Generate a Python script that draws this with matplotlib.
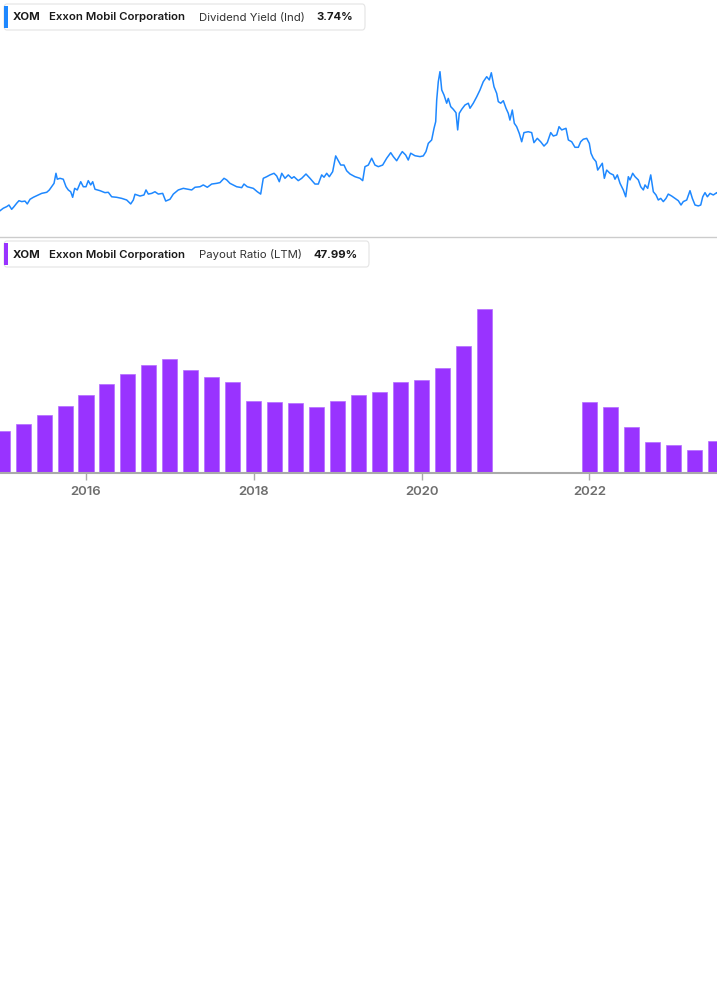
import matplotlib
matplotlib.use("Agg")
import matplotlib.pyplot as plt
from matplotlib.patches import FancyBboxPatch, Rectangle

plt.rcParams['font.family'] = ['Inter', 'DejaVu Sans']

# dividend yield (%)
yield_dates = [2014.975, 2015.014, 2015.055, 2015.082, 2015.114, 2015.142, 2015.174, 2015.201, 2015.234, 2015.273,
               2015.300, 2015.333, 2015.372, 2015.431, 2015.472, 2015.532, 2015.563, 2015.591, 2015.619, 2015.642,
               2015.658, 2015.690, 2015.729, 2015.762, 2015.789, 2015.818, 2015.841, 2015.865, 2015.896, 2015.937,
               2015.968, 2016.000, 2016.027, 2016.056, 2016.080, 2016.107, 2016.167, 2016.226, 2016.266, 2016.306,
               2016.366, 2016.426, 2016.485, 2016.533, 2016.564, 2016.584, 2016.644, 2016.691, 2016.715, 2016.743,
               2016.783, 2016.822, 2016.862, 2016.914, 2016.950, 2017.001, 2017.041, 2017.100, 2017.160, 2017.219,
               2017.260, 2017.299, 2017.359, 2017.398, 2017.446, 2017.498, 2017.558, 2017.597, 2017.645, 2017.677,
               2017.716, 2017.796, 2017.856, 2017.883, 2017.922, 2017.994, 2018.042, 2018.082, 2018.113, 2018.154,
               2018.193, 2018.241, 2018.273, 2018.304, 2018.333, 2018.372, 2018.411, 2018.452, 2018.479, 2018.530,
               2018.571, 2018.622, 2018.670, 2018.729, 2018.769, 2018.809, 2018.837, 2018.869, 2018.900, 2018.940,
               2018.976, 2019.007, 2019.036, 2019.075, 2019.107, 2019.147, 2019.206, 2019.266, 2019.298, 2019.325,
               2019.365, 2019.405, 2019.444, 2019.484, 2019.536, 2019.584, 2019.632, 2019.663, 2019.703, 2019.743,
               2019.770, 2019.810, 2019.841, 2019.870, 2019.921, 2019.981, 2020.020, 2020.052, 2020.080, 2020.120,
               2020.148, 2020.168, 2020.180, 2020.199, 2020.219, 2020.240, 2020.267, 2020.299, 2020.318, 2020.347,
               2020.378, 2020.410, 2020.430, 2020.449, 2020.478, 2020.517, 2020.557, 2020.577, 2020.616, 2020.657,
               2020.696, 2020.735, 2020.776, 2020.807, 2020.831, 2020.863, 2020.895, 2020.914, 2020.943, 2020.974,
               2021.006, 2021.033, 2021.053, 2021.081, 2021.105, 2021.133, 2021.164, 2021.193, 2021.220, 2021.271,
               2021.312, 2021.339, 2021.379, 2021.419, 2021.459, 2021.498, 2021.539, 2021.570, 2021.610, 2021.638,
               2021.670, 2021.721, 2021.749, 2021.789, 2021.828, 2021.868, 2021.896, 2021.927, 2021.968, 2021.999,
               2022.019, 2022.046, 2022.079, 2022.099, 2022.126, 2022.154, 2022.178, 2022.206, 2022.245, 2022.285,
               2022.305, 2022.333, 2022.365, 2022.404, 2022.433, 2022.464, 2022.484, 2022.516, 2022.544, 2022.583,
               2022.612, 2022.643, 2022.663, 2022.695, 2022.731, 2022.762, 2022.794, 2022.821, 2022.850, 2022.881,
               2022.913, 2022.940, 2022.981, 2023.020, 2023.060, 2023.092, 2023.119, 2023.160, 2023.199, 2023.227,
               2023.259, 2023.298, 2023.327, 2023.351, 2023.378, 2023.406, 2023.438, 2023.477, 2023.518, 2023.530]
yield_values = [2.80, 2.94, 3.03, 3.12, 2.88, 3.03, 3.22, 3.36, 3.31, 3.34,
                3.18, 3.44, 3.55, 3.68, 3.77, 3.83, 3.96, 4.14, 4.33, 4.89,
                4.56, 4.61, 4.56, 4.14, 3.96, 3.86, 3.55, 4.05, 3.96, 4.42,
                4.14, 4.14, 4.48, 4.24, 4.42, 4.00, 3.92, 3.81, 3.83, 3.58,
                3.55, 3.49, 3.40, 3.18, 3.40, 3.72, 3.62, 3.68, 3.96, 3.73,
                3.77, 3.86, 3.73, 3.77, 3.34, 3.44, 3.73, 3.96, 4.05, 4.00,
                3.96, 4.11, 4.14, 4.24, 4.11, 4.29, 4.33, 4.37, 4.61, 4.52,
                4.33, 4.14, 4.09, 4.29, 4.14, 4.05, 3.86, 3.73, 4.61, 4.70,
                4.80, 4.89, 4.74, 4.42, 4.89, 4.61, 4.80, 4.61, 4.70, 4.48,
                4.61, 4.85, 4.61, 4.29, 4.29, 4.80, 4.67, 4.89, 4.70, 4.98,
                5.86, 5.59, 5.35, 5.35, 5.03, 4.85, 4.70, 4.61, 4.48, 5.26,
                5.35, 5.73, 5.35, 5.26, 5.35, 5.73, 6.04, 5.82, 5.59, 5.91,
                6.10, 5.91, 5.63, 6.01, 5.87, 5.82, 5.86, 6.10, 6.56, 6.75,
                7.40, 7.77, 8.98, 10.00, 10.56, 9.54, 9.26, 8.80, 9.07, 8.61,
                8.46, 8.27, 7.31, 8.24, 8.46, 8.70, 8.80, 8.52, 8.80, 9.16,
                9.54, 10.00, 10.28, 10.10, 10.50, 9.72, 9.35, 8.89, 8.80, 8.94,
                8.52, 8.24, 7.86, 8.42, 7.68, 7.49, 7.12, 6.65, 7.16, 7.21,
                7.16, 6.60, 6.84, 6.65, 6.41, 6.60, 7.16, 6.97, 7.03, 7.49,
                7.31, 7.40, 6.75, 6.65, 6.34, 6.34, 6.65, 6.79, 6.84, 6.56,
                6.01, 5.73, 5.54, 5.07, 5.26, 5.45, 4.61, 5.07, 4.89, 4.80,
                4.56, 4.80, 4.33, 3.96, 3.58, 4.70, 4.52, 4.89, 4.70, 4.52,
                4.14, 3.96, 4.24, 4.05, 4.80, 3.86, 3.68, 3.40, 3.49, 3.31,
                3.49, 3.73, 3.62, 3.49, 3.36, 3.12, 3.31, 3.40, 3.92, 3.49,
                3.12, 3.07, 3.12, 3.58, 3.81, 3.58, 3.77, 3.68, 3.81, 3.74]

# payout ratio (LTM, %), quarterly; Q4 2020 - Q3 2021 missing
payout_quarters = ['2014Q4', '2015Q1', '2015Q2', '2015Q3', '2015Q4', '2016Q1', '2016Q2', '2016Q3',
                   '2016Q4', '2017Q1', '2017Q2', '2017Q3', '2017Q4', '2018Q1', '2018Q2', '2018Q3',
                   '2018Q4', '2019Q1', '2019Q2', '2019Q3', '2019Q4', '2020Q1', '2020Q2', '2020Q3',
                   '2021Q4', '2022Q1', '2022Q2', '2022Q3', '2022Q4', '2023Q1', '2023Q2']
payout_values = [62.6, 73.5, 87.0, 100.5, 116.6, 133.1, 149.0, 161.6,
                 171.0, 154.1, 143.6, 136.5, 107.6, 106.1, 105.0, 98.6,
                 107.6, 117.0, 121.5, 136.5, 139.5, 157.5, 190.5, 246.5,
                 106.1, 98.6, 68.6, 47.0, 41.6, 34.5, 47.99]
year_ticks = [2016, 2018, 2020, 2022]

W, H = 717, 1005
BLUE = '#1e88ff'
PURPLE = '#9933ff'
x0, x1 = 2014.975, 2014.975 + W / 83.9


def frac(x, y):
    return x / W, 1 - y / H


fig = plt.figure(figsize=(W / 100, H / 100), dpi=100)

# top: dividend yield line
ax1 = fig.add_axes([0, 1 - 237 / H, 1, 207 / H])
ax1.plot(yield_dates, yield_values, color=BLUE, lw=1.1)
ax1.set_xlim(x0, x1)
ax1.set_ylim(1.335, 12.886)
for s in ['top', 'left', 'right']:
    ax1.spines[s].set_visible(False)
ax1.spines['bottom'].set_color('#cccccc')
ax1.spines['bottom'].set_linewidth(1.0)
ax1.set_xticks([])
ax1.set_yticks([])

# bottom: payout ratio bars
bar_x = [int(q[:4]) + int(q[-1]) / 4 for q in payout_quarters]
ax2 = fig.add_axes([0, 1 - 473 / H, 1, 193 / H])
ax2.bar(bar_x, payout_values, width=0.179, color=PURPLE, edgecolor='#b56cff', linewidth=0.5)
ax2.set_xlim(x0, x1)
ax2.set_ylim(0, 289.5)
for s in ['top', 'left', 'right']:
    ax2.spines[s].set_visible(False)
ax2.spines['bottom'].set_color('#aaaaaa')
ax2.spines['bottom'].set_linewidth(1.5)
ax2.spines['bottom'].set_zorder(5)
ax2.set_yticks([])
ax2.set_xticks(year_ticks)
ax2.set_xticklabels([str(y) for y in year_ticks])
ax2.tick_params(axis='x', length=5, width=1, color='#aaaaaa', pad=4,
                labelsize=9.5, labelcolor='#6e6e6e')
for lab in ax2.get_xticklabels():
    lab.set_fontweight('semibold')


def legend(top, width, color, metric, value, xs):
    x, y = frac(4, top + 26)
    box = FancyBboxPatch((x, y), width / W, 26 / H, boxstyle='round,pad=0,rounding_size=0.004',
                         transform=fig.transFigure, facecolor='white', edgecolor='#e4e4e4', lw=0.8)
    fig.patches.append(box)
    bx, by = frac(4, top + 24)
    fig.patches.append(Rectangle((bx, by), 4 / W, 22 / H, transform=fig.transFigure,
                                 facecolor=color, edgecolor='none'))
    cy = 1 - (top + 13.5) / H
    fig.text(xs[0] / W, cy, 'XOM', fontsize=8.2, fontweight='bold', color='#1a1a1a', va='center')
    fig.text(xs[1] / W, cy, 'Exxon Mobil Corporation', fontsize=8.2, fontweight='semibold',
             color='#1a1a1a', va='center')
    fig.text(xs[2] / W, cy, metric, fontsize=8.2, color='#333333', va='center')
    fig.text(xs[3] / W, cy, value, fontsize=8.2, fontweight='bold', color='#1a1a1a', va='center')


legend(4, 361, BLUE, 'Dividend Yield (Ind)', '3.74%', [13, 49, 199, 316])
legend(241, 365, PURPLE, 'Payout Ratio (LTM)', '47.99%', [13, 49, 199, 313])

fig.savefig('out.png', dpi=100)
